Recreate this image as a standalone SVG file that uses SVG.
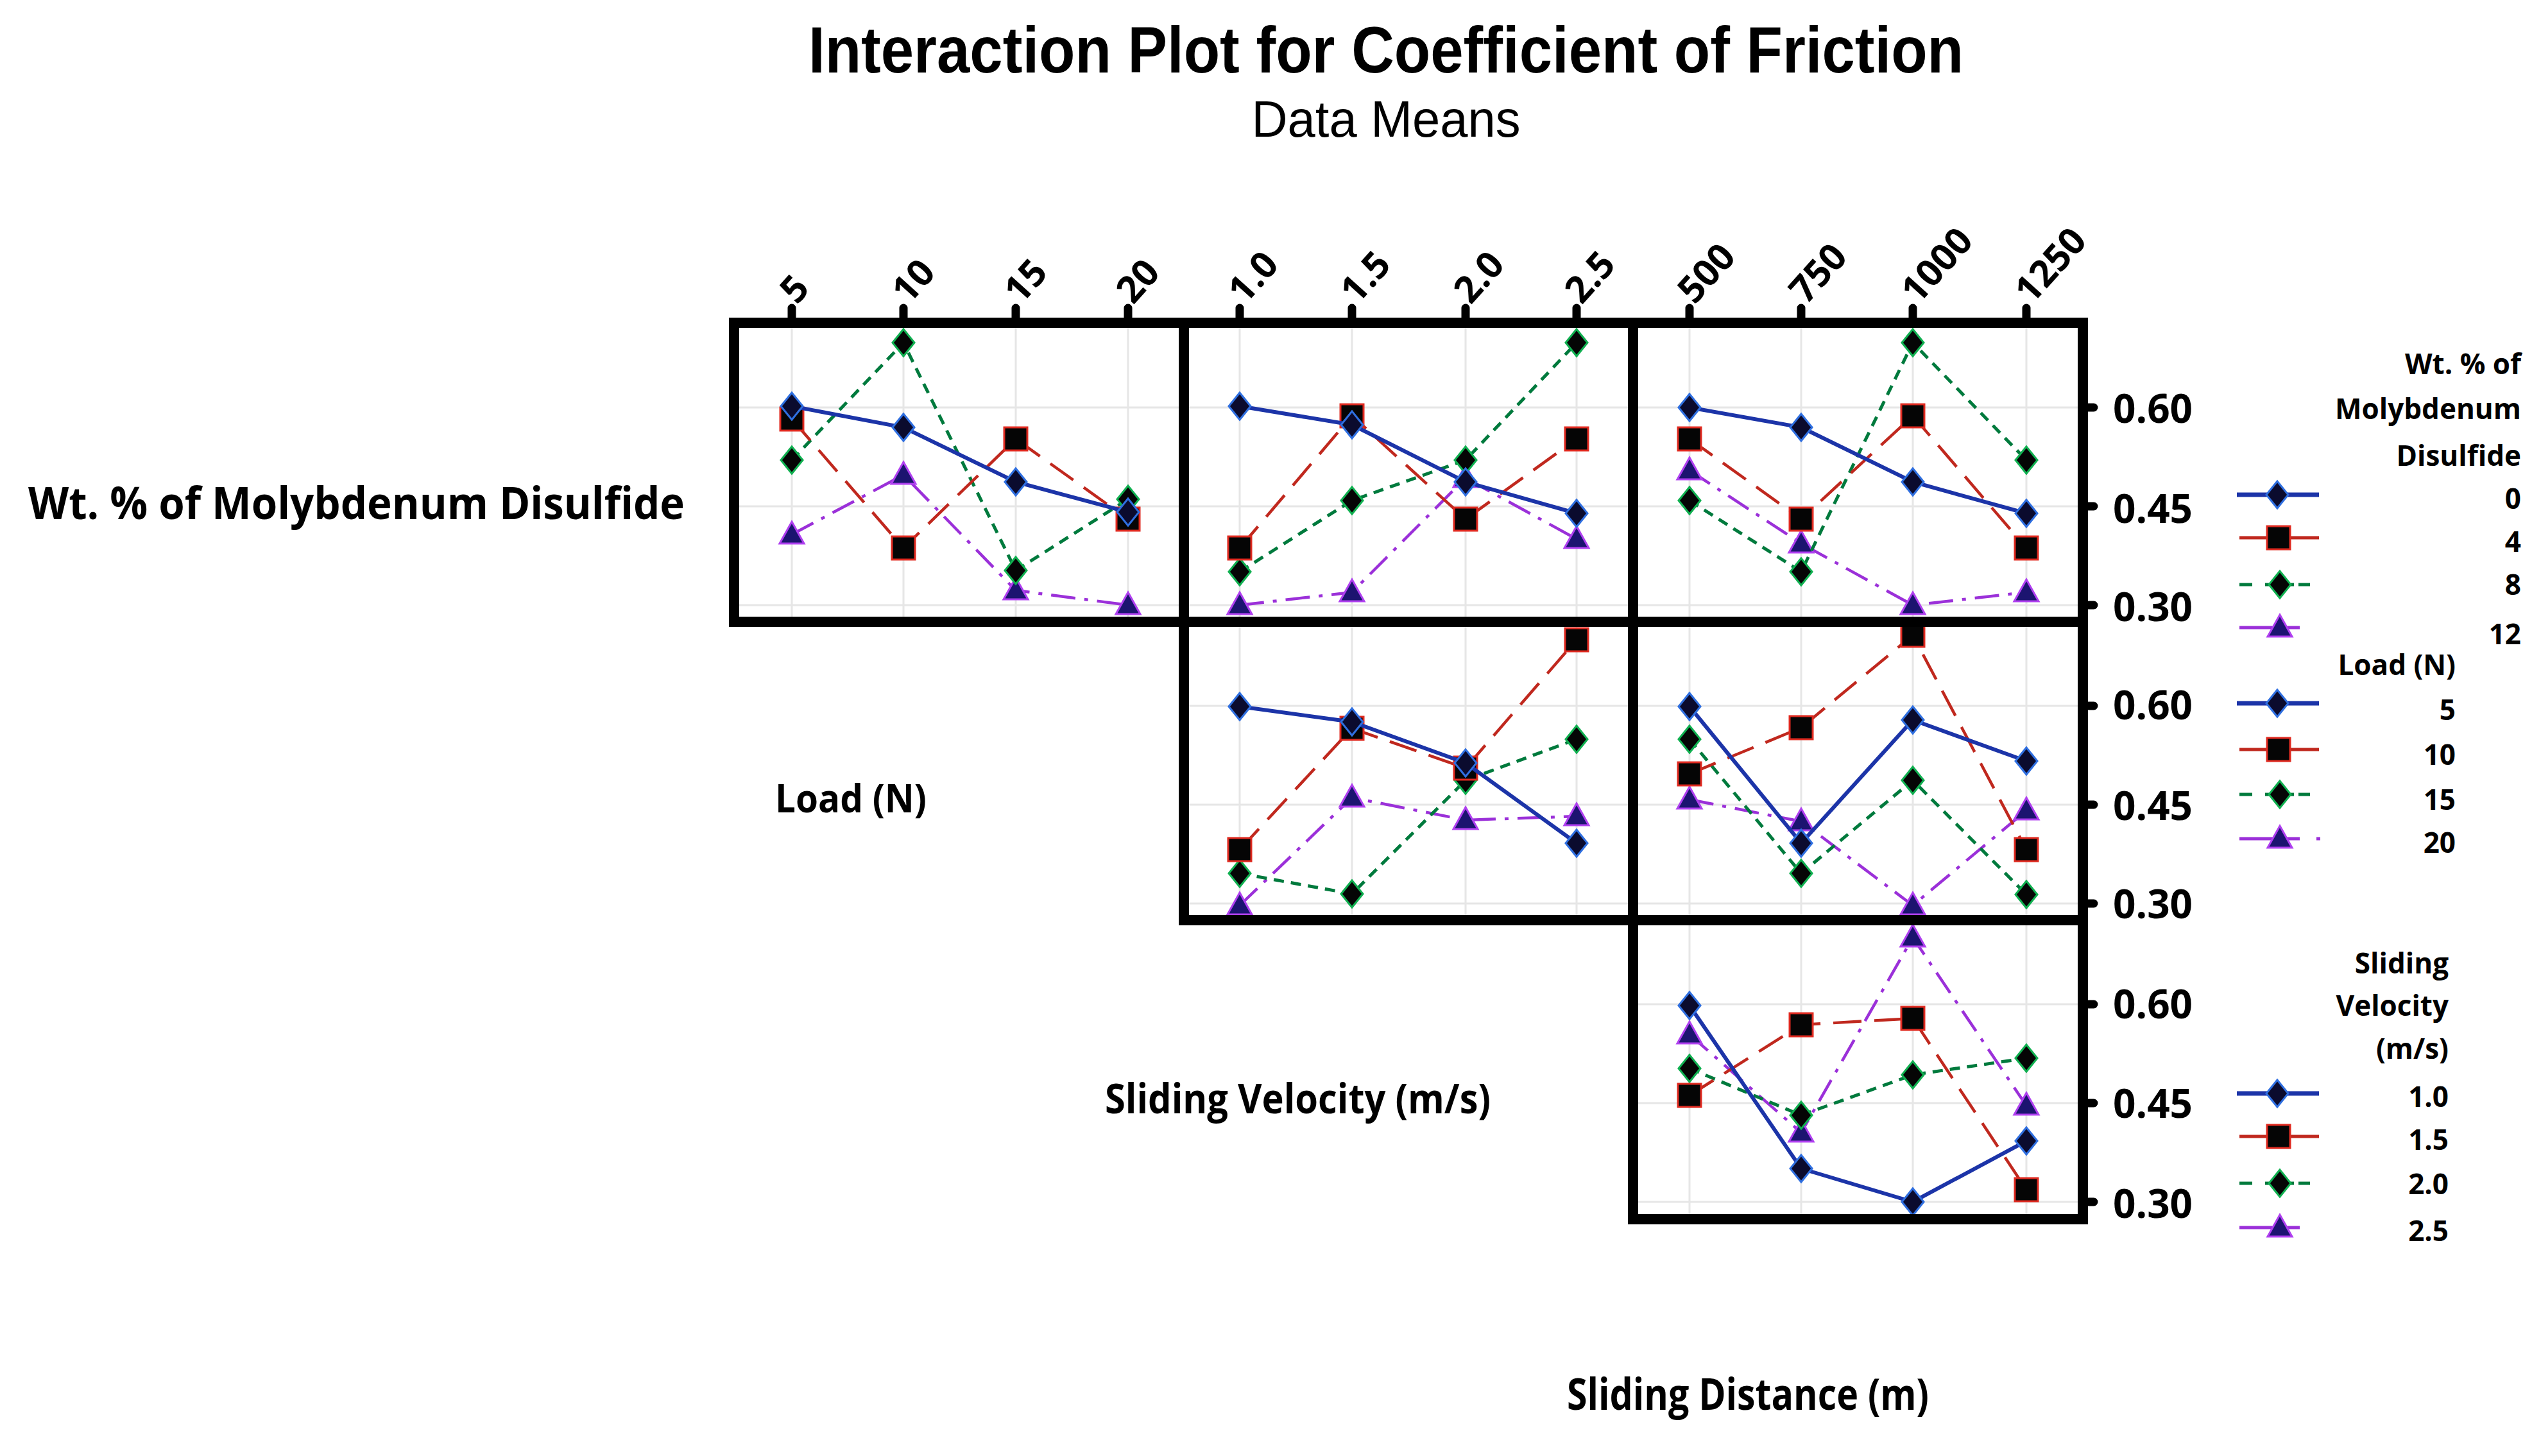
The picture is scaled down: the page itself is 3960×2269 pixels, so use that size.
<svg xmlns="http://www.w3.org/2000/svg" xmlns:xlink="http://www.w3.org/1999/xlink" width="3960" height="2269" viewBox="0 0 3960 2269">
<style>
text{font-family:"Open Sans","Liberation Sans",sans-serif;fill:#000;}
.ttl{font-family:"Liberation Sans",Arial,sans-serif;font-size:102px;font-weight:700;}
.sub{font-family:"Liberation Sans",Arial,sans-serif;font-size:80px;font-weight:400;}
.fac{font-size:70px;font-weight:700;}
.yl{font-size:62px;font-weight:700;}
.xl{font-size:58px;font-weight:700;}
.lg{font-size:44px;font-weight:700;}
.frame{fill:none;stroke:#000;stroke-width:16;stroke-linejoin:miter;}
.grid{stroke:#e6e6e6;stroke-width:3;fill:none;}
.tick{stroke:#000;stroke-width:13;stroke-linecap:round;}
.fb{fill:#0b0b2e;stroke:#2f6fe0;stroke-width:3;}
.fr{fill:#050505;stroke:#e02a20;stroke-width:3;}
.fg{fill:#050505;stroke:#10b050;stroke-width:3;}
.fp{fill:#1c1470;stroke:#b040f0;stroke-width:3;}
.lb{fill:none;stroke:#1c34a8;stroke-width:6;marker-start:url(#mB);marker-mid:url(#mB);marker-end:url(#mB);}
.lr{fill:none;stroke:#c0281e;stroke-width:4.5;stroke-dasharray:44 20;marker-start:url(#mR);marker-mid:url(#mR);marker-end:url(#mR);}
.lgn{fill:none;stroke:#007a3d;stroke-width:5;stroke-dasharray:16 11;marker-start:url(#mG);marker-mid:url(#mG);marker-end:url(#mG);}
.lp{fill:none;stroke:#9b30d9;stroke-width:4.5;stroke-dasharray:38 14 6 14;marker-start:url(#mP);marker-mid:url(#mP);marker-end:url(#mP);}
.sb{stroke:#1c34a8;stroke-width:7;}
.sr{stroke:#c0281e;stroke-width:5;}
.sg{stroke:#007a3d;stroke-width:5;}
.sp{stroke:#9b30d9;stroke-width:5;}
</style>
<defs>
<path id="dia" d="M0,-21 L17,0 L0,21 L-17,0Z"/>
<path id="sq" d="M-18,-18 H18 V18 H-18Z"/>
<path id="tri" d="M0,-20 L19,14 L-19,14Z"/>
<marker id="mB" markerUnits="userSpaceOnUse" markerWidth="60" markerHeight="60" viewBox="-30 -30 60 60" refX="0" refY="0" orient="0" overflow="visible"><use href="#dia" class="fb"/></marker>
<marker id="mR" markerUnits="userSpaceOnUse" markerWidth="60" markerHeight="60" viewBox="-30 -30 60 60" refX="0" refY="0" orient="0" overflow="visible"><use href="#sq" class="fr"/></marker>
<marker id="mG" markerUnits="userSpaceOnUse" markerWidth="60" markerHeight="60" viewBox="-30 -30 60 60" refX="0" refY="0" orient="0" overflow="visible"><use href="#dia" class="fg"/></marker>
<marker id="mP" markerUnits="userSpaceOnUse" markerWidth="60" markerHeight="60" viewBox="-30 -30 60 60" refX="0" refY="0" orient="0" overflow="visible"><use href="#tri" class="fp"/></marker>
</defs>
<rect x="0" y="0" width="3960" height="2269" fill="#fff"/>

<g id="titles">
<text class="ttl" x="2160" y="113" text-anchor="middle" textLength="1800" lengthAdjust="spacingAndGlyphs">Interaction Plot for Coefficient of Friction</text>
<text class="sub" x="2160" y="213" text-anchor="middle" textLength="419" lengthAdjust="spacingAndGlyphs">Data Means</text>
</g>

<g id="factor-labels">
<text class="fac" x="44" y="809" textLength="1023" lengthAdjust="spacingAndGlyphs">Wt. % of Molybdenum Disulfide</text>
<text class="fac" x="1208" y="1266" textLength="236" lengthAdjust="spacingAndGlyphs" style="font-size:60px">Load (N)</text>
<text class="fac" x="1722" y="1735" textLength="601" lengthAdjust="spacingAndGlyphs" style="font-size:64px">Sliding Velocity (m/s)</text>
<text class="fac" x="2442" y="2197" textLength="564" lengthAdjust="spacingAndGlyphs" style="font-size:68px">Sliding Distance (m)</text>
</g>

<g id="grid">
<path class="grid" d="M1234,503V969 M1408,503V969 M1583,503V969 M1758,503V969 M1144,635H1845 M1144,789H1845 M1144,943H1845"/>
<path class="grid" d="M1932,503V1434 M2107,503V1434 M2284,503V1434 M2457,503V1434 M1845,635H2545 M1845,789H2545 M1845,943H2545 M1845,1100H2545 M1845,1254H2545 M1845,1408H2545"/>
<path class="grid" d="M2633,503V1900 M2807,503V1900 M2981,503V1900 M3158,503V1900 M2545,635H3246 M2545,789H3246 M2545,943H3246 M2545,1100H3246 M2545,1254H3246 M2545,1408H3246 M2545,1565H3246 M2545,1719H3246 M2545,1873H3246"/>
</g>

<g id="top-axis">
<path class="tick" d="M1234,480V500 M1408,480V500 M1583,480V500 M1758,480V500 M1932,480V500 M2107,480V500 M2284,480V500 M2457,480V500 M2633,480V500 M2807,480V500 M2981,480V500 M3158,480V500"/>
<text class="xl" transform="translate(1242,476) rotate(-48)">5</text>
<text class="xl" transform="translate(1416,476) rotate(-48)">10</text>
<text class="xl" transform="translate(1591,476) rotate(-48)">15</text>
<text class="xl" transform="translate(1766,476) rotate(-48)">20</text>
<text class="xl" transform="translate(1940,476) rotate(-48)">1.0</text>
<text class="xl" transform="translate(2115,476) rotate(-48)">1.5</text>
<text class="xl" transform="translate(2292,476) rotate(-48)">2.0</text>
<text class="xl" transform="translate(2465,476) rotate(-48)">2.5</text>
<text class="xl" transform="translate(2641,476) rotate(-48)">500</text>
<text class="xl" transform="translate(2815,476) rotate(-48)">750</text>
<text class="xl" transform="translate(2989,476) rotate(-48)">1000</text>
<text class="xl" transform="translate(3166,476) rotate(-48)">1250</text>
</g>

<g id="right-axis">
<path class="tick" d="M3250,635H3263 M3250,789H3263 M3250,943H3263 M3250,1100H3263 M3250,1254H3263 M3250,1408H3263 M3250,1565H3263 M3250,1719H3263 M3250,1873H3263"/>
<text class="yl" x="3293" y="659">0.60</text>
<text class="yl" x="3293" y="815">0.45</text>
<text class="yl" x="3293" y="968">0.30</text>
<text class="yl" x="3293" y="1121">0.60</text>
<text class="yl" x="3293" y="1278">0.45</text>
<text class="yl" x="3293" y="1431">0.30</text>
<text class="yl" x="3293" y="1587">0.60</text>
<text class="yl" x="3293" y="1742">0.45</text>
<text class="yl" x="3293" y="1898">0.30</text>
</g>

<g id="panel-wt-load">
<polyline class="lp" points="1234,833 1408,740 1583,920 1758,943"/>
<polyline class="lgn" points="1234,717 1408,534 1583,889 1758,778"/>
<polyline class="lr" points="1234,653 1408,854 1583,684 1758,809"/>
<polyline class="lb" points="1234,633 1408,666 1583,751 1758,798"/>
</g>

<g id="panel-wt-velocity">
<polyline class="lp" points="1932,943 2107,923 2284,745 2457,840"/>
<polyline class="lgn" points="1932,891 2107,780 2284,717 2457,534"/>
<polyline class="lr" points="1932,854 2107,648 2284,809 2457,684"/>
<polyline class="lb" points="1932,633 2107,662 2284,751 2457,800"/>
</g>

<g id="panel-wt-distance">
<polyline class="lp" points="2633,733 2807,847 2981,943 3158,923"/>
<polyline class="lgn" points="2633,780 2807,891 2981,534 3158,717"/>
<polyline class="lr" points="2633,684 2807,809 2981,648 3158,854"/>
<polyline class="lb" points="2633,635 2807,666 2981,751 3158,800"/>
</g>

<g id="panel-load-velocity">
<polyline class="lp" points="1932,1411 2107,1243 2284,1278 2457,1272"/>
<polyline class="lgn" points="1932,1361 2107,1393 2284,1216 2457,1152"/>
<polyline class="lr" points="1932,1324 2107,1135 2284,1197 2457,997"/>
<polyline class="lb" points="1932,1101 2107,1125 2284,1189 2457,1314"/>
</g>

<g id="panel-load-distance">
<polyline class="lp" points="2633,1246 2807,1280 2981,1411 3158,1263"/>
<polyline class="lgn" points="2633,1152 2807,1361 2981,1216 3158,1394"/>
<polyline class="lr" points="2633,1206 2807,1134 2981,990 3158,1324"/>
<polyline class="lb" points="2633,1101 2807,1314 2981,1122 3158,1186"/>
</g>

<g id="panel-velocity-distance">
<polyline class="lp" points="2633,1612 2807,1765 2981,1461 3158,1723"/>
<polyline class="lgn" points="2633,1665 2807,1738 2981,1675 3158,1649"/>
<polyline class="lr" points="2633,1707 2807,1597 2981,1587 3158,1854"/>
<polyline class="lb" points="2633,1567 2807,1821 2981,1873 3158,1778"/>
</g>

<g id="frames">
<rect class="frame" x="1144" y="503" width="701" height="466"/>
<rect class="frame" x="1845" y="503" width="700" height="466"/>
<rect class="frame" x="2545" y="503" width="701" height="466"/>
<rect class="frame" x="1845" y="969" width="700" height="465"/>
<rect class="frame" x="2545" y="969" width="701" height="465"/>
<rect class="frame" x="2545" y="1434" width="701" height="466"/>
</g>

<g id="legend-wt">
<text class="lg" x="3929" y="583" text-anchor="end">Wt. % of</text>
<text class="lg" x="3929" y="653" text-anchor="end">Molybdenum</text>
<text class="lg" x="3929" y="726" text-anchor="end">Disulfide</text>
<line class="sb" x1="3486" y1="771" x2="3614" y2="771"/><use href="#dia" class="fb" x="3549" y="771"/>
<line class="sr" x1="3490" y1="838" x2="3614" y2="838"/><use href="#sq" class="fr" x="3551" y="838"/>
<path class="sg" d="M3490,911H3510 M3530,911H3575 M3582,911H3600"/><use href="#dia" class="fg" x="3553" y="911"/>
<line class="sp" x1="3490" y1="978" x2="3584" y2="978"/><use href="#tri" class="fp" x="3553" y="978"/>
<text class="lg" x="3929" y="793" text-anchor="end">0</text>
<text class="lg" x="3929" y="860" text-anchor="end">4</text>
<text class="lg" x="3929" y="927" text-anchor="end">8</text>
<text class="lg" x="3929" y="1004" text-anchor="end">12</text>
</g>

<g id="legend-load">
<text class="lg" x="3827" y="1052" text-anchor="end">Load (N)</text>
<line class="sb" x1="3486" y1="1096" x2="3614" y2="1096"/><use href="#dia" class="fb" x="3549" y="1096"/>
<line class="sr" x1="3490" y1="1168" x2="3614" y2="1168"/><use href="#sq" class="fr" x="3551" y="1168"/>
<path class="sg" d="M3490,1238H3510 M3530,1238H3575 M3582,1238H3600"/><use href="#dia" class="fg" x="3553" y="1238"/>
<path class="sp" d="M3490,1307H3584 M3610,1307H3616"/><use href="#tri" class="fp" x="3553" y="1307"/>
<text class="lg" x="3827" y="1122" text-anchor="end">5</text>
<text class="lg" x="3827" y="1192" text-anchor="end">10</text>
<text class="lg" x="3827" y="1262" text-anchor="end">15</text>
<text class="lg" x="3827" y="1329" text-anchor="end">20</text>
</g>

<g id="legend-velocity">
<text class="lg" x="3816" y="1517" text-anchor="end">Sliding</text>
<text class="lg" x="3816" y="1583" text-anchor="end">Velocity</text>
<text class="lg" x="3816" y="1650" text-anchor="end">(m/s)</text>
<line class="sb" x1="3486" y1="1704" x2="3614" y2="1704"/><use href="#dia" class="fb" x="3549" y="1704"/>
<line class="sr" x1="3490" y1="1771" x2="3614" y2="1771"/><use href="#sq" class="fr" x="3551" y="1771"/>
<path class="sg" d="M3490,1844H3510 M3530,1844H3575 M3582,1844H3600"/><use href="#dia" class="fg" x="3553" y="1844"/>
<line class="sp" x1="3490" y1="1913" x2="3584" y2="1913"/><use href="#tri" class="fp" x="3553" y="1913"/>
<text class="lg" x="3816" y="1725" text-anchor="end">1.0</text>
<text class="lg" x="3816" y="1792" text-anchor="end">1.5</text>
<text class="lg" x="3816" y="1861" text-anchor="end">2.0</text>
<text class="lg" x="3816" y="1934" text-anchor="end">2.5</text>
</g>
</svg>
